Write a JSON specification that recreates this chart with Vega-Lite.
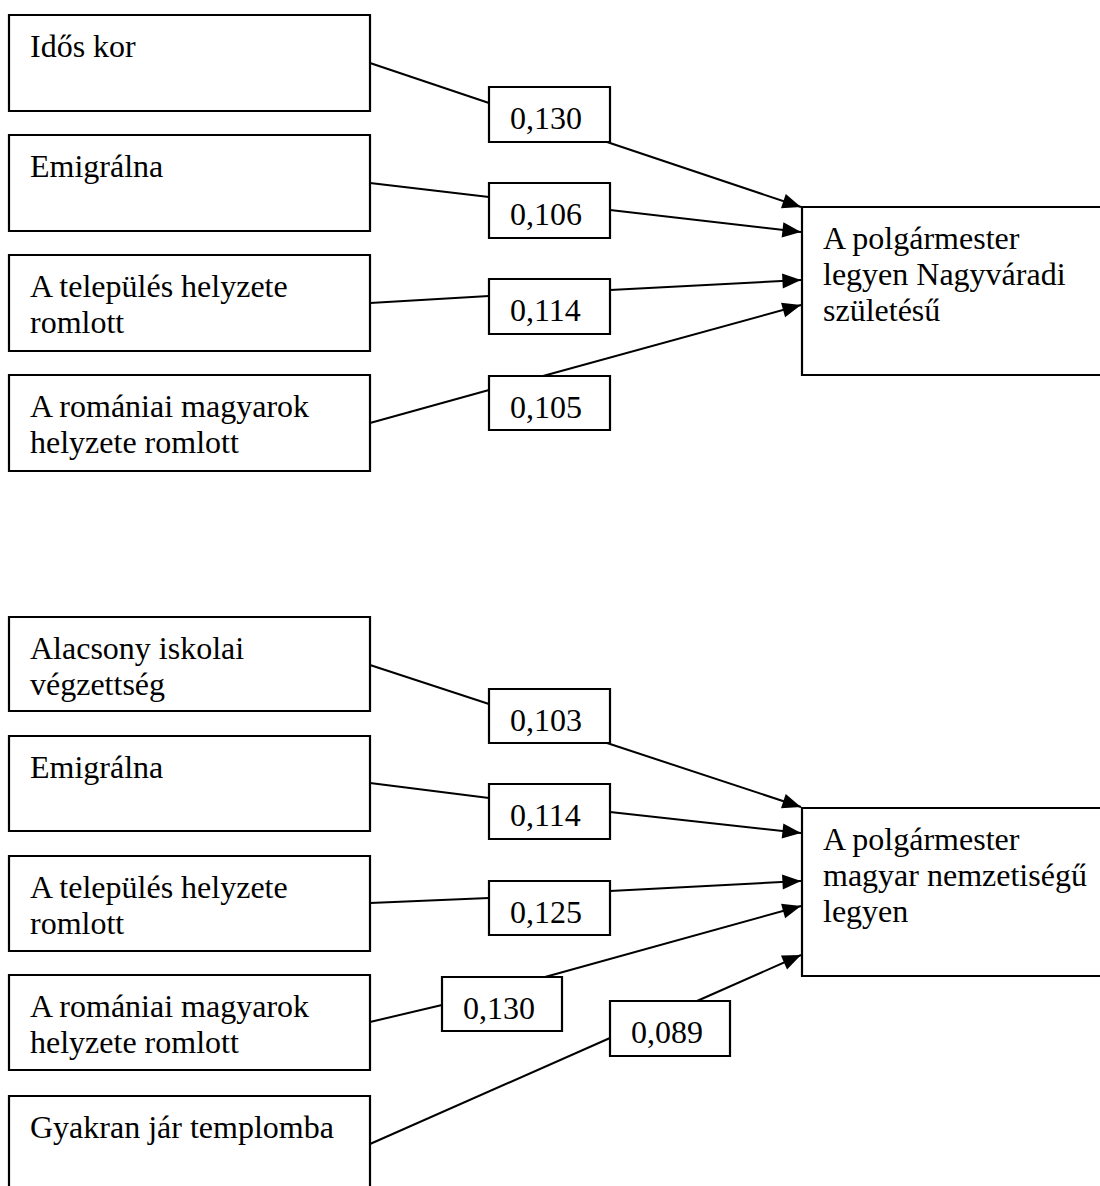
{
  "$schema": "https://vega.github.io/schema/vega-lite/v6.json",
  "width": 1100,
  "height": 1186,
  "padding": 0,
  "autosize": {"type": "fit", "contains": "padding"},
  "background": "white",
  "config": {"view": {"stroke": null}},
  "datasets": {
    "boxes": [
      {"id": "top_v1", "x0": 9, "x1": 370, "y0": 15, "y1": 111, "label": "Idős kor"},
      {"id": "top_v2", "x0": 9, "x1": 370, "y0": 135, "y1": 231, "label": "Emigrálna"},
      {"id": "top_v3", "x0": 9, "x1": 370, "y0": 255, "y1": 351, "label": "A település helyzete\nromlott"},
      {"id": "top_v4", "x0": 9, "x1": 370, "y0": 375, "y1": 471, "label": "A romániai magyarok\nhelyzete romlott"},
      {"id": "top_c1", "x0": 489, "x1": 610, "y0": 87, "y1": 142, "label": "0,130"},
      {"id": "top_c2", "x0": 489, "x1": 610, "y0": 183, "y1": 238, "label": "0,106"},
      {"id": "top_c3", "x0": 489, "x1": 610, "y0": 279, "y1": 334, "label": "0,114"},
      {"id": "top_c4", "x0": 489, "x1": 610, "y0": 376, "y1": 430, "label": "0,105"},
      {"id": "top_t", "x0": 802, "x1": 1120, "y0": 207, "y1": 375, "label": "A polgármester\nlegyen Nagyváradi\nszületésű"},
      {"id": "bot_v1", "x0": 9, "x1": 370, "y0": 617, "y1": 711, "label": "Alacsony iskolai\nvégzettség"},
      {"id": "bot_v2", "x0": 9, "x1": 370, "y0": 736, "y1": 831, "label": "Emigrálna"},
      {"id": "bot_v3", "x0": 9, "x1": 370, "y0": 856, "y1": 951, "label": "A település helyzete\nromlott"},
      {"id": "bot_v4", "x0": 9, "x1": 370, "y0": 975, "y1": 1070, "label": "A romániai magyarok\nhelyzete romlott"},
      {"id": "bot_v5", "x0": 9, "x1": 370, "y0": 1096, "y1": 1220, "label": "Gyakran jár templomba"},
      {"id": "bot_c1", "x0": 489, "x1": 610, "y0": 689, "y1": 743, "label": "0,103"},
      {"id": "bot_c2", "x0": 489, "x1": 610, "y0": 784, "y1": 839, "label": "0,114"},
      {"id": "bot_c3", "x0": 489, "x1": 610, "y0": 881, "y1": 935, "label": "0,125"},
      {"id": "bot_c4", "x0": 442, "x1": 562, "y0": 977, "y1": 1031, "label": "0,130"},
      {"id": "bot_c5", "x0": 610, "x1": 730, "y0": 1001, "y1": 1056, "label": "0,089"},
      {"id": "bot_t", "x0": 802, "x1": 1120, "y0": 808, "y1": 976, "label": "A polgármester\nmagyar nemzetiségű\nlegyen"}
    ],
    "links": [
      {"x1": 370, "y1": 63, "x2": 489, "y2": 103, "arrow": false},
      {"x1": 370, "y1": 183, "x2": 489, "y2": 197, "arrow": false},
      {"x1": 370, "y1": 303, "x2": 489, "y2": 296, "arrow": false},
      {"x1": 370, "y1": 423, "x2": 489, "y2": 390, "arrow": false},
      {"x1": 607, "y1": 142, "x2": 801, "y2": 207, "arrow": true},
      {"x1": 610, "y1": 210, "x2": 801, "y2": 232, "arrow": true},
      {"x1": 610, "y1": 290, "x2": 801, "y2": 280, "arrow": true},
      {"x1": 543, "y1": 376, "x2": 801, "y2": 305, "arrow": true},
      {"x1": 370, "y1": 665, "x2": 489, "y2": 704, "arrow": false},
      {"x1": 370, "y1": 783, "x2": 489, "y2": 798, "arrow": false},
      {"x1": 370, "y1": 903, "x2": 489, "y2": 898, "arrow": false},
      {"x1": 370, "y1": 1022, "x2": 442, "y2": 1005, "arrow": false},
      {"x1": 370, "y1": 1144, "x2": 610, "y2": 1038, "arrow": false},
      {"x1": 607, "y1": 743, "x2": 801, "y2": 807, "arrow": true},
      {"x1": 610, "y1": 812, "x2": 801, "y2": 833, "arrow": true},
      {"x1": 610, "y1": 891, "x2": 801, "y2": 881, "arrow": true},
      {"x1": 545, "y1": 977, "x2": 801, "y2": 906, "arrow": true},
      {"x1": 697, "y1": 1001, "x2": 801, "y2": 955, "arrow": true}
    ]
  },
  "layer": [
    {
      "data": {"name": "links"},
      "mark": {"type": "rule", "color": "black", "strokeWidth": 2},
      "encoding": {
        "x": {"field": "x1", "type": "quantitative", "scale": {"domain": [0, 1100], "nice": false, "zero": false}, "axis": null},
        "y": {"field": "y1", "type": "quantitative", "scale": {"domain": [0, 1186], "nice": false, "zero": false, "reverse": true}, "axis": null},
        "x2": {"field": "x2"},
        "y2": {"field": "y2"}
      }
    },
    {
      "data": {"name": "boxes"},
      "mark": {"type": "rect", "fill": "white", "stroke": "black", "strokeWidth": 2.2, "clip": true},
      "encoding": {
        "x": {"field": "x0", "type": "quantitative", "scale": {"domain": [0, 1100], "nice": false, "zero": false}, "axis": null},
        "x2": {"field": "x1"},
        "y": {"field": "y0", "type": "quantitative", "scale": {"domain": [0, 1186], "nice": false, "zero": false, "reverse": true}, "axis": null},
        "y2": {"field": "y1"}
      }
    },
    {
      "data": {"name": "boxes"},
      "mark": {"type": "text", "align": "left", "baseline": "alphabetic", "font": "Liberation Serif", "fontSize": 32, "color": "black", "dx": 21, "dy": 42, "lineBreak": "\n", "lineHeight": 36},
      "encoding": {
        "x": {"field": "x0", "type": "quantitative", "scale": {"domain": [0, 1100], "nice": false, "zero": false}, "axis": null},
        "y": {"field": "y0", "type": "quantitative", "scale": {"domain": [0, 1186], "nice": false, "zero": false, "reverse": true}, "axis": null},
        "text": {"field": "label", "type": "nominal"}
      }
    },
    {
      "data": {"name": "links"},
      "transform": [
        {"filter": "datum.arrow"},
        {"calculate": "atan2(datum.y2 - datum.y1, datum.x2 - datum.x1) * 180 / PI", "as": "ang"}
      ],
      "mark": {"type": "point", "shape": "M0,0L-1.6,-0.65L-1.6,0.65Z", "filled": true, "color": "black", "opacity": 1, "size": 540, "strokeWidth": 0},
      "encoding": {
        "x": {"field": "x2", "type": "quantitative", "scale": {"domain": [0, 1100], "nice": false, "zero": false}, "axis": null},
        "y": {"field": "y2", "type": "quantitative", "scale": {"domain": [0, 1186], "nice": false, "zero": false, "reverse": true}, "axis": null},
        "angle": {"field": "ang", "type": "quantitative", "scale": null}
      }
    }
  ]
}
